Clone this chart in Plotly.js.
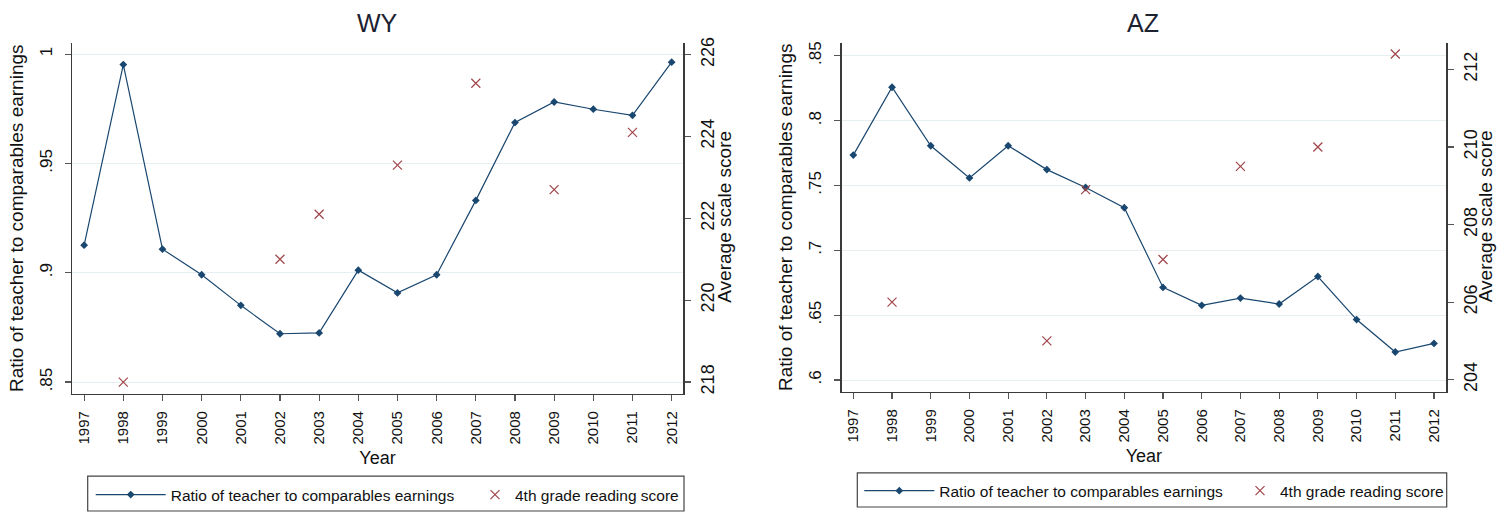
<!DOCTYPE html>
<html>
<head>
<meta charset="utf-8">
<script src="https://cdn.plot.ly/plotly-3.0.1.min.js"></script>
<style>
  html, body { margin: 0; padding: 0; background: #fff; }
  #chart { width: 1509px; height: 512px; }
</style>
</head>
<body>
<div id="chart"></div>
<script>
// Years shown on both panels
const years = [1997, 1998, 1999, 2000, 2001, 2002, 2003, 2004, 2005, 2006, 2007, 2008, 2009, 2010, 2011, 2012];
const yearLabels = years.map(String);

// Wyoming: ratio of teacher to comparables earnings
const wyRatio = [0.9126, 0.9952, 0.9108, 0.8991, 0.8851, 0.8721, 0.8725, 0.9012,
                 0.8908, 0.8991, 0.9331, 0.9687, 0.9781, 0.9748, 0.9720, 0.9963];
// Arizona: ratio of teacher to comparables earnings
const azRatio = [0.7734, 0.8257, 0.7806, 0.7558, 0.7806, 0.7622, 0.7484, 0.7328,
                 0.6714, 0.6576, 0.6632, 0.6586, 0.6798, 0.6466, 0.6216, 0.6282];

// 4th grade reading scores (average scale score), assessment years only
const scoreYears = [1998, 2002, 2003, 2005, 2007, 2009, 2011];
const wyScore = [218.0, 221.0, 222.1, 223.3, 225.3, 222.7, 224.1];
const azScore = [206.0, 205.0, 208.9, 207.1, 209.5, 210.0, 212.4];

// Tick values and labels
const wyRatioTicks = [0.85, 0.9, 0.95, 1];
const wyRatioLabels = ['.85', '.9', '.95', '1'];
const wyScoreTicks = [218, 220, 222, 224, 226];
const azRatioTicks = [0.6, 0.65, 0.7, 0.75, 0.8, 0.85];
const azRatioLabels = ['.6', '.65', '.7', '.75', '.8', '.85'];
const azScoreTicks = [204, 206, 208, 210, 212];

const ratioName = 'Ratio of teacher to comparables earnings';
const scoreName = '4th grade reading score';
const scoreAxisTitle = 'Average scale score';

// Page geometry helpers (pixels -> paper fractions)
const W = 1509, H = 512;
const px = v => v / W;
const py = v => 1 - v / H;

const NAVY = '#1a476f';
const MAROON = '#a0454a';
const FONT = 'Liberation Sans, Arial, sans-serif';

const lineTrace = (x, y, xa, ya, legend) => ({
  type: 'scatter', mode: 'lines+markers', x: x, y: y, xaxis: xa, yaxis: ya,
  name: ratioName, legend: legend,
  line: { color: NAVY, width: 1.2 },
  marker: { symbol: 'diamond', size: 6, color: NAVY }
});
const scoreTrace = (x, y, xa, ya, legend) => ({
  type: 'scatter', mode: 'markers', x: x, y: y, xaxis: xa, yaxis: ya,
  name: scoreName, legend: legend,
  marker: { symbol: 'x-thin', size: 9, color: MAROON, line: { color: MAROON, width: 1.2 } }
});

const traces = [
  lineTrace(years, wyRatio, 'x', 'y', 'legend'),
  scoreTrace(scoreYears, wyScore, 'x', 'y2', 'legend2'),
  lineTrace(years, azRatio, 'x2', 'y3', 'legend3'),
  scoreTrace(scoreYears, azScore, 'x2', 'y4', 'legend4')
];

const axisLine = { showline: true, linecolor: '#3a3a3a', linewidth: 1.5, ticks: 'outside',
                   ticklen: 6, tickwidth: 1.2, tickcolor: '#555', zeroline: false,
                   tickangle: -90 };

const xAxis = (domain, anchor, range) => Object.assign({}, axisLine, {
  domain: domain, anchor: anchor, range: range, tickmode: 'array',
  tickvals: years, ticktext: yearLabels, showgrid: false, ticklabelstandoff: 4,
  tickfont: { family: FONT, size: 15, color: '#111' },
  title: { text: 'Year', font: { family: FONT, size: 18, color: '#111' }, standoff: 8 }
});
const yLeft = (domain, anchor, range, vals, labels) => Object.assign({}, axisLine, {
  domain: domain, anchor: anchor, range: range, tickmode: 'array',
  tickvals: vals, ticktext: labels, showgrid: true, gridcolor: '#e8eff2', gridwidth: 1,
  ticklabelstandoff: 6,
  tickfont: { family: FONT, size: 17, color: '#111' },
  title: { text: ratioName, font: { family: FONT, size: 19, color: '#111' }, standoff: 8 }
});
const yRight = (overlay, anchor, range, vals) => Object.assign({}, axisLine, {
  overlaying: overlay, side: 'right', anchor: anchor, range: range, tickmode: 'array',
  tickvals: vals, ticktext: vals.map(String), showgrid: false, ticklabelstandoff: 2,
  tickfont: { family: FONT, size: 18, color: '#111' }
});

// Right-hand axis titles, placed just outside the score tick labels
const rightTitle = (x, y) => ({
  text: scoreAxisTitle, xref: 'paper', yref: 'paper', x: px(x), y: py(y),
  xanchor: 'center', yanchor: 'middle', textangle: -90, showarrow: false,
  font: { family: FONT, size: 19, color: '#111' }
});
const panelTitle = (text, x) => ({
  text: text, xref: 'paper', yref: 'paper', x: px(x), y: py(23), xanchor: 'center',
  yanchor: 'middle', showarrow: false, font: { family: FONT, size: 25, color: '#1c2230' }
});

const legendBase = { orientation: 'h', xanchor: 'left', yanchor: 'middle', borderwidth: 0,
                     bgcolor: 'rgba(0,0,0,0)', font: { family: FONT, size: 15.5, color: '#111' } };

const layout = {
  width: W, height: H, paper_bgcolor: '#fff', plot_bgcolor: '#fff',
  margin: { l: 0, r: 0, t: 0, b: 0 },
  showlegend: true,
  xaxis: xAxis([px(72), px(683)], 'y', [1996.69, 2012.29]),
  yaxis: yLeft([py(396), py(43)], 'x', [0.8447, 1.0052], wyRatioTicks, wyRatioLabels),
  yaxis2: yRight('y', 'x', [217.716, 226.29], wyScoreTicks),
  xaxis2: xAxis([px(841.7), px(1446)], 'y3', [1996.70, 2012.31]),
  yaxis3: yLeft([py(394), py(43)], 'x2', [0.591, 0.86], azRatioTicks, azRatioLabels),
  yaxis4: yRight('y3', 'x2', [203.69, 212.69], azScoreTicks),
  legend: Object.assign({}, legendBase, { x: px(90.7), y: py(498), itemwidth: 70 }),
  legend2: Object.assign({}, legendBase, { x: px(475), y: py(498), itemwidth: 30 }),
  legend3: Object.assign({}, legendBase, { x: px(859.3), y: py(494), itemwidth: 70 }),
  legend4: Object.assign({}, legendBase, { x: px(1240), y: py(494), itemwidth: 30 }),
  annotations: [
    panelTitle('WY', 377),
    panelTitle('AZ', 1143),
    rightTitle(725, 218),
    rightTitle(1485, 217.5)
  ],
  shapes: [
    { type: 'rect', xref: 'paper', yref: 'paper', x0: px(87.7), x1: px(684), y0: py(514), y1: py(479),
      line: { color: '#444', width: 1.2 }, fillcolor: 'rgba(0,0,0,0)' },
    { type: 'rect', xref: 'paper', yref: 'paper', x0: px(857.3), x1: px(1446.7), y0: py(510), y1: py(475.7),
      line: { color: '#444', width: 1.2 }, fillcolor: 'rgba(0,0,0,0)' }
  ]
};

Plotly.newPlot('chart', traces, layout, { displayModeBar: false, staticPlot: true });
</script>
</body>
</html>
